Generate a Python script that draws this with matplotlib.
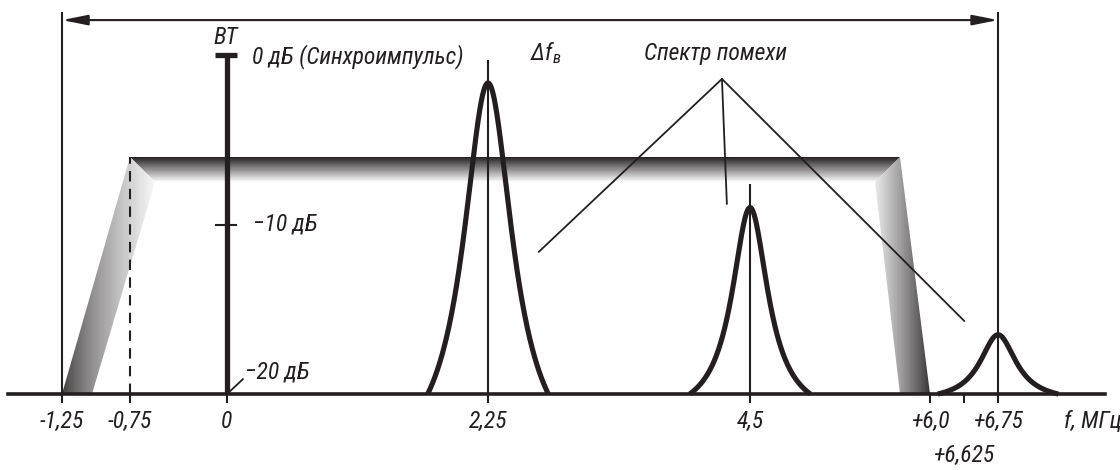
import matplotlib.pyplot as plt
import numpy as np
from matplotlib.colors import LinearSegmentedColormap
from matplotlib.patches import Polygon

plt.rcParams['font.family'] = ['Roboto Condensed', 'Fira Sans Condensed',
                               'PT Sans Narrow', 'DejaVu Sans']
plt.rcParams['font.style'] = 'italic'
plt.rcParams['mathtext.fontset'] = 'custom'
plt.rcParams['mathtext.it'] = 'Roboto Condensed:italic'
plt.rcParams['mathtext.rm'] = 'Roboto Condensed'

INK = '#231f20'

# ---- data ----
tick_freqs = [-1.25, -0.75, 0, 2.25, 4.5, 6.0, 6.625, 6.75]
tick_labels = ['-1,25', '-0,75', '0', '2,25', '4,5', '+6,0', '\n+6,625', '+6,75']

# passband (trapezoid) in MHz / dB
band_base = [-1.25, 6.0]      # where the slopes reach -20 dB
band_top = [-0.75, 5.75]      # where the flat top starts / ends
band_level = -6.0             # dB
band_depth = 1.5              # dB, shaded thickness
inner_base = [-1.03, 5.75]
inner_top = [-0.556, 5.54]

# interference / carrier peaks
peak_freqs = [2.25, 4.5, 6.75]
peak_db = [-1.65, -9.0, -16.5]
peak_gamma = [0.26, 0.19, 0.19]
peak_half = 0.52

floor_db = -20
db_marks = [0, -10, -20]

# schematic (not-to-scale) frequency axis
F_KNOTS = [-3.0, -1.25, -0.75, 0, 2.25, 4.5, 6.0, 6.625, 6.75, 9.0]
S_KNOTS = [-3.172, -1.422, -0.836, 0, 2.25, 4.509, 6.06, 6.353, 6.647, 8.897]


def fwd(f):
    return np.interp(f, F_KNOTS, S_KNOTS)


def inv(s):
    return np.interp(s, S_KNOTS, F_KNOTS)


fig = plt.figure(figsize=(11.2, 4.7), dpi=100)
ax = fig.add_axes([0, 0, 1, 1])
ax.set_xscale('function', functions=(fwd, inv))
ax.set_xlim(inv(-227 / 116), inv(893 / 116))
ax.set_ylim(-24.48, 3.245)

# ---- shaded passband ----
cmap = LinearSegmentedColormap.from_list('g', [INK, '#ffffff'])
top2 = band_level - band_depth


def shade(xs, ys, C, poly):
    patch = Polygon(poly, closed=True, transform=ax.transData)
    m = ax.pcolormesh(xs, ys, C, cmap=cmap, vmin=0, vmax=1,
                      shading='flat', zorder=1)
    m.set_clip_path(patch)


# flat top: vertical gradient, dark on top
xs = np.linspace(band_top[0], band_top[1], 3)
ys = np.linspace(top2, band_level, 60)
yc = 0.5 * (ys[:-1] + ys[1:])
C = np.repeat(((band_level - yc) / band_depth)[:, None], 2, axis=1)
shade(xs, ys, C, [(band_top[0], band_level), (band_top[1], band_level),
                  (inner_top[1], top2), (inner_top[0], top2)])

# left slope: horizontal gradient
xs = np.linspace(band_base[0], inner_top[0], 80)
ys = np.array([floor_db, band_level])
s0, s1 = fwd(band_base[0]), fwd(inner_top[0])
t = np.clip((fwd(0.5 * (xs[:-1] + xs[1:])) - s0) / (s1 - s0), 0, 1) ** 0.7
C = 0.1 + 0.87 * t[None, :]
shade(xs, ys, C, [(band_base[0], floor_db), (band_top[0], band_level),
                  (inner_top[0], top2), (inner_base[0], floor_db)])

# right slope: horizontal gradient
xs = np.linspace(inner_top[1] - 0.05, band_base[1], 80)
s0, s1 = fwd(band_base[1]), fwd(inner_top[1] - 0.05)
t = np.clip((fwd(0.5 * (xs[:-1] + xs[1:])) - s0) / (s1 - s0), 0, 1) ** 0.85
C = 0.08 + 0.9 * t[None, :]
shade(xs, ys, C, [(band_top[1], band_level), (band_base[1], floor_db),
                  (inner_base[1], floor_db), (inner_top[1], top2)])

# ---- boundaries and width arrow ----
ax.vlines([band_base[0], peak_freqs[2]], floor_db, 2.54, color=INK, lw=1.5, zorder=3)
ax.annotate('', xy=(band_base[0], 2.06), xytext=(peak_freqs[2], 2.06),
            arrowprops=dict(arrowstyle='<|-|>,head_length=1.1,head_width=0.22',
                            mutation_scale=14, color=INK, lw=1.5,
                            shrinkA=0, shrinkB=0), zorder=3)
ax.vlines(band_top[0], floor_db, band_level, color=INK, lw=1.5,
          linestyles=(0, (5, 3.5)), zorder=3)

# ---- vision carrier level bar ----
ax.vlines(0, floor_db, db_marks[0], color=INK, lw=3.8, zorder=4)
ax.hlines(db_marks[0], -0.09, 0.09, color=INK, lw=3.8, zorder=4)
ax.hlines(db_marks[1], -0.09, 0.09, color=INK, lw=1.5, zorder=4)

# ---- peaks ----
peak_tops = [-0.3, -7.6, 2.54]
for fc, lvl, g, top in zip(peak_freqs, peak_db, peak_gamma, peak_tops):
    u = np.linspace(-peak_half, peak_half, 401)
    L = 1 / (1 + (u / g) ** 2)
    c = 1 / (1 + (peak_half / g) ** 2)
    shape = (L - c) / (1 - c)
    ax.plot(inv(fwd(fc) + u), floor_db + (lvl - floor_db) * shape,
            color=INK, lw=3.7, solid_capstyle='butt', zorder=5)
    if top < 2:
        ax.vlines(fc, floor_db, top, color=INK, lw=1.5, zorder=4)

# ---- axis ----
for side in ['top', 'left', 'right']:
    ax.spines[side].set_visible(False)
ax.spines['bottom'].set_position(('data', floor_db))
ax.spines['bottom'].set_bounds(inv((8 - 227) / 116), inv((1105 - 227) / 116))
ax.spines['bottom'].set_linewidth(2.6)
ax.spines['bottom'].set_color(INK)
ax.spines['bottom'].set_zorder(6)
ax.set_yticks([])
ax.set_xticks(tick_freqs, tick_labels)
ax.xaxis.set_minor_locator(plt.NullLocator())
ax.tick_params(axis='x', direction='out', length=6.8, width=1.5, color=INK,
               pad=5, labelsize=17, labelcolor=INK)
for lab in ax.get_xticklabels():
    if lab.get_text().startswith('\n'):
        lab.set_linespacing(1.6)

# ---- text ----
kw = dict(transform=ax.transAxes, fontsize=17, color=INK)
ax.text(0.2018, 0.921, 'ВТ', ha='center', va='center', **kw)
ax.text(0.225, 0.879, '0 дБ (Синхроимпульс)', ha='left', va='center', **kw)
ax.text(0.2259, 0.523, '−10 дБ', ha='left', va='center', **kw)
ax.text(0.2188, 0.2085, '−20 дБ', ha='left', va='center', **kw)
ax.annotate('', xy=(0, floor_db), xytext=(0.217, 0.1936), textcoords='axes fraction',
            arrowprops=dict(arrowstyle='-', color=INK, lw=1.3, shrinkA=0, shrinkB=0))
ax.text(0.473, 0.887, r'$\Delta f_{в}$', ha='left', va='center', **kw)
ax.text(0.639, 0.887, 'Спектр помехи', ha='center', va='center', **kw)
ax.text(0.950, 0.1277, 'f, МГц', ha='left', va='top', **kw)

apex = (0.6446, 0.832)
for end in [(0.481, 0.464), (0.649, 0.566), (0.861, 0.317)]:
    ax.annotate('', xy=end, xycoords='axes fraction', xytext=apex,
                textcoords='axes fraction',
                arrowprops=dict(arrowstyle='-', color=INK, lw=1.3,
                                shrinkA=0, shrinkB=0), zorder=6)

fig.savefig('out.png', dpi=100, facecolor='white')
